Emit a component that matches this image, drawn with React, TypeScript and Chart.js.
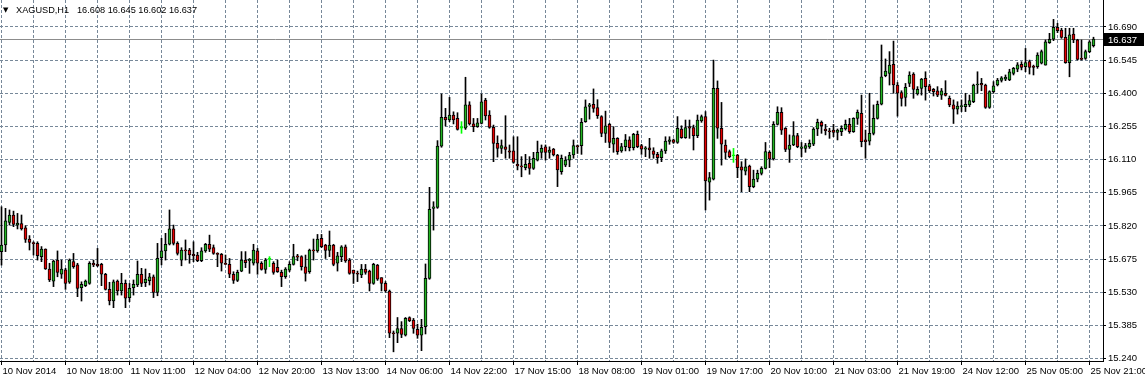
import { useEffect, useRef } from "react";
import { Chart, registerables } from "chart.js";

Chart.register(...registerables);

const symbol = "XAGUSD,H1";

const tickLabels = [
  "10 Nov 2014", "10 Nov 18:00", "11 Nov 11:00", "12 Nov 04:00", "12 Nov 20:00", "13 Nov 13:00",
  "14 Nov 06:00", "14 Nov 22:00", "17 Nov 15:00", "18 Nov 08:00", "19 Nov 01:00", "19 Nov 17:00",
  "20 Nov 10:00", "21 Nov 03:00", "21 Nov 19:00", "24 Nov 12:00", "25 Nov 05:00", "25 Nov 21:00",
];

const priceTicks = [15.24, 15.385, 15.53, 15.675, 15.82, 15.965, 16.11, 16.255, 16.4, 16.545, 16.69];
const priceMin = 15.2299;
const priceMax = 16.8076;

const opens = [
  15.708, 15.737, 15.836, 15.868, 15.824, 15.831, 15.812, 15.763, 15.747, 15.744,
  15.686, 15.719, 15.632, 15.579, 15.671, 15.609, 15.628, 15.574, 15.664, 15.650,
  15.550, 15.559, 15.569, 15.657, 15.652, 15.652, 15.609, 15.543, 15.492, 15.579,
  15.536, 15.569, 15.507, 15.550, 15.562, 15.609, 15.572, 15.581, 15.598, 15.530,
  15.681, 15.711, 15.740, 15.807, 15.744, 15.671, 15.715, 15.715, 15.696, 15.693,
  15.668, 15.711, 15.740, 15.726, 15.700, 15.696, 15.657, 15.652, 15.609, 15.582,
  15.623, 15.671, 15.668, 15.657, 15.711, 15.657, 15.630, 15.674, 15.657, 15.639,
  15.617, 15.598, 15.627, 15.652, 15.690, 15.686, 15.642, 15.620, 15.715, 15.711,
  15.766, 15.737, 15.713, 15.737, 15.657, 15.686, 15.729, 15.671, 15.627, 15.613,
  15.606, 15.632, 15.623, 15.569, 15.649, 15.594, 15.569, 15.536, 15.353, 15.351,
  15.372, 15.343, 15.420, 15.409, 15.368, 15.343, 15.380, 15.591, 15.897, 15.901,
  16.169, 16.295, 16.283, 16.305, 16.290, 16.247, 16.247, 16.349, 16.266, 16.254,
  16.268, 16.370, 16.305, 16.251, 16.181, 16.159, 16.166, 16.148, 16.148, 16.089,
  16.082, 16.075, 16.094, 16.072, 16.108, 16.142, 16.166, 16.142, 16.156, 16.130,
  16.057, 16.086, 16.108, 16.130, 16.171, 16.171, 16.276, 16.343, 16.352, 16.337,
  16.298, 16.225, 16.264, 16.177, 16.203, 16.148, 16.167, 16.196, 16.162, 16.220,
  16.171, 16.156, 16.162, 16.148, 16.133, 16.118, 16.148, 16.189, 16.196, 16.185,
  16.244, 16.206, 16.254, 16.250, 16.215, 16.279, 16.298, 16.011, 16.025, 16.422,
  16.247, 16.174, 16.145, 16.127, 16.130, 16.079, 16.060, 16.082, 15.992, 16.025,
  16.050, 16.072, 16.142, 16.113, 16.264, 16.317, 16.247, 16.155, 16.174, 16.215,
  16.159, 16.159, 16.166, 16.177, 16.244, 16.273, 16.244, 16.236, 16.239, 16.229,
  16.232, 16.244, 16.264, 16.232, 16.290, 16.312, 16.196, 16.191, 16.225, 16.290,
  16.352, 16.477, 16.487, 16.526, 16.436, 16.403, 16.382, 16.443, 16.484, 16.397,
  16.421, 16.465, 16.432, 16.417, 16.411, 16.392, 16.400, 16.378, 16.349, 16.330,
  16.341, 16.341, 16.349, 16.363, 16.436, 16.443, 16.436, 16.338, 16.407, 16.436,
  16.456, 16.462, 16.458, 16.487, 16.505, 16.526, 16.516, 16.538, 16.519, 16.516,
  16.531, 16.523, 16.621, 16.636, 16.688, 16.676, 16.644, 16.534, 16.659, 16.633,
  16.553, 16.552, 16.582, 16.608,
];

const highs = [
  15.904, 15.897, 15.890, 15.885, 15.875, 15.868, 15.821, 15.778, 15.751, 15.751,
  15.730, 15.720, 15.657, 15.671, 15.711, 15.671, 15.635, 15.676, 15.700, 15.657,
  15.576, 15.584, 15.664, 15.671, 15.722, 15.657, 15.613, 15.574, 15.584, 15.584,
  15.613, 15.584, 15.569, 15.584, 15.667, 15.635, 15.632, 15.613, 15.606, 15.744,
  15.766, 15.788, 15.890, 15.824, 15.751, 15.725, 15.759, 15.722, 15.751, 15.705,
  15.725, 15.744, 15.780, 15.737, 15.703, 15.700, 15.693, 15.678, 15.620, 15.627,
  15.708, 15.708, 15.678, 15.740, 15.722, 15.664, 15.678, 15.686, 15.664, 15.671,
  15.627, 15.638, 15.664, 15.740, 15.696, 15.690, 15.693, 15.719, 15.763, 15.783,
  15.783, 15.740, 15.798, 15.740, 15.705, 15.734, 15.737, 15.678, 15.627, 15.623,
  15.652, 15.652, 15.627, 15.657, 15.652, 15.594, 15.577, 15.540, 15.361, 15.420,
  15.402, 15.420, 15.423, 15.416, 15.391, 15.412, 15.654, 15.989, 15.926, 16.193,
  16.397, 16.334, 16.382, 16.319, 16.315, 16.276, 16.470, 16.363, 16.290, 16.290,
  16.397, 16.378, 16.324, 16.261, 16.214, 16.196, 16.302, 16.174, 16.210, 16.210,
  16.123, 16.133, 16.123, 16.142, 16.191, 16.174, 16.174, 16.166, 16.159, 16.133,
  16.130, 16.123, 16.142, 16.196, 16.174, 16.290, 16.371, 16.356, 16.419, 16.372,
  16.302, 16.322, 16.269, 16.254, 16.206, 16.181, 16.220, 16.210, 16.225, 16.235,
  16.177, 16.167, 16.203, 16.162, 16.142, 16.156, 16.210, 16.210, 16.200, 16.298,
  16.258, 16.283, 16.283, 16.261, 16.305, 16.305, 16.320, 16.054, 16.545, 16.454,
  16.360, 16.196, 16.152, 16.159, 16.133, 16.101, 16.113, 16.086, 16.064, 16.064,
  16.079, 16.185, 16.148, 16.276, 16.341, 16.337, 16.250, 16.218, 16.276, 16.225,
  16.185, 16.181, 16.196, 16.250, 16.287, 16.279, 16.264, 16.247, 16.264, 16.244,
  16.258, 16.283, 16.290, 16.293, 16.327, 16.392, 16.239, 16.400, 16.349, 16.366,
  16.611, 16.550, 16.582, 16.628, 16.447, 16.411, 16.443, 16.494, 16.490, 16.429,
  16.465, 16.494, 16.440, 16.421, 16.429, 16.421, 16.455, 16.388, 16.371, 16.363,
  16.371, 16.400, 16.392, 16.440, 16.494, 16.465, 16.440, 16.411, 16.451, 16.465,
  16.473, 16.480, 16.505, 16.513, 16.534, 16.538, 16.596, 16.545, 16.523, 16.577,
  16.589, 16.633, 16.662, 16.723, 16.706, 16.684, 16.684, 16.684, 16.684, 16.636,
  16.633, 16.589, 16.630, 16.645,
];

const lows = [
  15.649, 15.708, 15.824, 15.817, 15.807, 15.802, 15.748, 15.715, 15.693, 15.671,
  15.664, 15.630, 15.577, 15.555, 15.598, 15.591, 15.543, 15.569, 15.635, 15.511,
  15.492, 15.555, 15.565, 15.642, 15.642, 15.559, 15.540, 15.475, 15.463, 15.518,
  15.518, 15.463, 15.489, 15.518, 15.555, 15.555, 15.555, 15.562, 15.507, 15.515,
  15.650, 15.671, 15.737, 15.737, 15.693, 15.646, 15.671, 15.657, 15.664, 15.664,
  15.664, 15.705, 15.708, 15.696, 15.642, 15.623, 15.652, 15.594, 15.569, 15.577,
  15.620, 15.638, 15.613, 15.649, 15.609, 15.627, 15.613, 15.642, 15.609, 15.617,
  15.555, 15.591, 15.620, 15.649, 15.668, 15.627, 15.579, 15.613, 15.671, 15.705,
  15.725, 15.678, 15.686, 15.646, 15.623, 15.664, 15.661, 15.609, 15.569, 15.577,
  15.594, 15.609, 15.536, 15.565, 15.582, 15.536, 15.530, 15.332, 15.270, 15.310,
  15.332, 15.339, 15.402, 15.351, 15.329, 15.275, 15.348, 15.587, 15.802, 15.897,
  16.164, 16.257, 16.276, 16.266, 16.239, 16.225, 16.242, 16.261, 16.232, 16.251,
  16.266, 16.283, 16.247, 16.101, 16.121, 16.137, 16.116, 16.116, 16.094, 16.065,
  16.035, 16.065, 16.046, 16.067, 16.104, 16.116, 16.108, 16.116, 16.126, 15.992,
  16.046, 16.079, 16.079, 16.116, 16.137, 16.133, 16.273, 16.287, 16.317, 16.290,
  16.210, 16.185, 16.162, 16.142, 16.133, 16.142, 16.148, 16.148, 16.152, 16.162,
  16.133, 16.123, 16.116, 16.116, 16.094, 16.101, 16.137, 16.177, 16.181, 16.181,
  16.203, 16.203, 16.203, 16.152, 16.206, 16.273, 15.890, 15.933, 16.021, 16.203,
  16.086, 16.113, 16.118, 16.098, 16.031, 15.970, 16.043, 15.970, 15.987, 16.013,
  16.043, 16.069, 16.075, 16.108, 16.261, 16.220, 16.145, 16.098, 16.171, 16.162,
  16.123, 16.142, 16.159, 16.171, 16.215, 16.225, 16.218, 16.203, 16.210, 16.196,
  16.215, 16.239, 16.225, 16.229, 16.264, 16.166, 16.116, 16.174, 16.218, 16.287,
  16.349, 16.472, 16.436, 16.400, 16.300, 16.344, 16.344, 16.429, 16.378, 16.392,
  16.392, 16.370, 16.403, 16.388, 16.385, 16.373, 16.388, 16.341, 16.268, 16.309,
  16.320, 16.320, 16.341, 16.359, 16.400, 16.411, 16.334, 16.334, 16.400, 16.432,
  16.449, 16.455, 16.455, 16.480, 16.494, 16.502, 16.494, 16.484, 16.480, 16.509,
  16.528, 16.523, 16.618, 16.630, 16.665, 16.640, 16.531, 16.472, 16.621, 16.545,
  16.545, 16.548, 16.577, 16.602,
];

const closes = [
  15.737, 15.842, 15.868, 15.827, 15.833, 15.807, 15.761, 15.748, 15.743, 15.690,
  15.719, 15.632, 15.584, 15.667, 15.617, 15.632, 15.569, 15.671, 15.642, 15.547,
  15.565, 15.579, 15.657, 15.650, 15.647, 15.609, 15.543, 15.492, 15.576, 15.536,
  15.569, 15.504, 15.547, 15.565, 15.609, 15.569, 15.588, 15.598, 15.530, 15.679,
  15.711, 15.740, 15.807, 15.744, 15.700, 15.715, 15.711, 15.693, 15.690, 15.668,
  15.711, 15.740, 15.719, 15.700, 15.696, 15.657, 15.652, 15.609, 15.582, 15.617,
  15.671, 15.660, 15.674, 15.715, 15.657, 15.630, 15.671, 15.674, 15.617, 15.620,
  15.598, 15.632, 15.652, 15.686, 15.684, 15.642, 15.613, 15.715, 15.711, 15.763,
  15.730, 15.713, 15.737, 15.652, 15.690, 15.729, 15.667, 15.613, 15.613, 15.609,
  15.632, 15.617, 15.569, 15.652, 15.587, 15.569, 15.536, 15.351, 15.349, 15.372,
  15.346, 15.416, 15.406, 15.372, 15.343, 15.377, 15.591, 15.893, 15.904, 16.169,
  16.295, 16.283, 16.305, 16.283, 16.242, 16.247, 16.349, 16.266, 16.254, 16.271,
  16.363, 16.301, 16.251, 16.181, 16.159, 16.171, 16.155, 16.143, 16.098, 16.083,
  16.078, 16.089, 16.072, 16.116, 16.142, 16.159, 16.142, 16.152, 16.130, 16.065,
  16.116, 16.108, 16.130, 16.171, 16.166, 16.273, 16.341, 16.349, 16.334, 16.302,
  16.225, 16.258, 16.185, 16.203, 16.145, 16.167, 16.196, 16.162, 16.220, 16.167,
  16.156, 16.162, 16.152, 16.133, 16.118, 16.148, 16.191, 16.196, 16.185, 16.247,
  16.206, 16.250, 16.247, 16.215, 16.283, 16.298, 16.017, 16.031, 16.422, 16.247,
  16.177, 16.142, 16.123, 16.127, 16.075, 16.064, 16.079, 15.992, 16.025, 16.050,
  16.072, 16.145, 16.113, 16.264, 16.317, 16.239, 16.155, 16.174, 16.215, 16.167,
  16.166, 16.171, 16.181, 16.244, 16.273, 16.258, 16.236, 16.232, 16.229, 16.239,
  16.247, 16.264, 16.232, 16.290, 16.317, 16.188, 16.188, 16.225, 16.290, 16.352,
  16.472, 16.497, 16.523, 16.436, 16.400, 16.378, 16.426, 16.480, 16.417, 16.417,
  16.462, 16.429, 16.411, 16.407, 16.392, 16.411, 16.391, 16.349, 16.330, 16.344,
  16.346, 16.352, 16.368, 16.436, 16.440, 16.436, 16.338, 16.407, 16.432, 16.458,
  16.468, 16.470, 16.494, 16.509, 16.524, 16.513, 16.534, 16.513, 16.513, 16.567,
  16.582, 16.625, 16.636, 16.688, 16.674, 16.644, 16.534, 16.655, 16.633, 16.548,
  16.548, 16.582, 16.625, 16.637,
];

const BULL = "#22b422";
const BEAR = "#e50000";
const DOJI = "#00ff00";
const GRID = "#778899";
const FONT = "'Liberation Sans', Arial, sans-serif";

export default function App() {
  const ref = useRef<HTMLCanvasElement | null>(null);

  useEffect(() => {
    document.body.style.margin = "0";
    const canvas = ref.current;
    if (!canvas) return;
    const n = closes.length;
    const idx = closes.map((_, i) => i);
    const colorOf = (i: number) =>
      closes[i] > opens[i] ? BULL : closes[i] < opens[i] ? BEAR : DOJI;
    const outlineOf = (i: number) => (colorOf(i) === DOJI ? DOJI : "#000000");
    const gridIdx = Array.from({ length: tickLabels.length * 2 - 1 }, (_, k) => k * 8);
    const last = closes[n - 1];
    const header = `${opens[n - 1].toFixed(3)} ${highs[n - 1].toFixed(3)} ${lows[n - 1].toFixed(3)} ${last.toFixed(3)}`;

    const overlay = {
      id: "overlay",
      beforeDatasetsDraw(chart: any) {
        const { ctx, chartArea, scales } = chart;
        const py = Math.round(scales.y.getPixelForValue(last)) + 0.5;
        ctx.save();
        ctx.strokeStyle = "#8c8c8c";
        ctx.lineWidth = 1;
        ctx.beginPath();
        ctx.moveTo(chartArea.left, py);
        ctx.lineTo(chartArea.right, py);
        ctx.stroke();
        ctx.restore();
      },
      afterDraw(chart: any) {
        const { ctx, chartArea, scales } = chart;
        const py = Math.round(scales.y.getPixelForValue(last));
        ctx.save();
        ctx.fillStyle = "#000";
        ctx.fillRect(chartArea.right + 1, py - 6, 40, 13);
        ctx.fillStyle = "#fff";
        ctx.font = `9.5px ${FONT}`;
        ctx.textBaseline = "middle";
        ctx.textAlign = "left";
        ctx.fillText(last.toFixed(3), chartArea.right + 5, py + 1);
        ctx.fillStyle = "#000";
        ctx.font = `7px 'DejaVu Sans', sans-serif`;
        ctx.fillText("▼", 3, 10);
        ctx.font = `9.2px ${FONT}`;
        ctx.fillText(symbol, 16, 10);
        ctx.fillText(header, 77, 10);
        ctx.restore();
      },
    };

    const chart = new Chart(canvas, {
      type: "bar",
      data: {
        datasets: [
          {
            label: "body",
            data: idx.map((i) => ({ x: i, y: [opens[i], closes[i]] })) as any,
            backgroundColor: idx.map(colorOf),
            borderColor: idx.map(outlineOf),
            borderWidth: 1,
            borderSkipped: false,
            barThickness: 3,
            minBarLength: 1,
            grouped: false,
            order: 0,
          },
          {
            label: "wick",
            data: idx.map((i) => ({ x: i, y: [lows[i], highs[i]] })) as any,
            backgroundColor: idx.map(outlineOf),
            borderWidth: 0,
            barThickness: 1,
            grouped: false,
            order: 1,
          },
        ],
      },
      options: {
        responsive: false,
        animation: false,
        devicePixelRatio: 1,
        events: [],
        layout: { padding: 0, autoPadding: false },
        plugins: { legend: { display: false }, tooltip: { enabled: false }, title: { display: false } },
        scales: {
          x: {
            type: "linear",
            min: -0.375,
            max: 275.375,
            offset: false,
            afterBuildTicks: (s: any) => {
              s.ticks = gridIdx.map((v) => ({ value: v }));
            },
            afterFit: (s: any) => {
              s.height = 19;
              s.paddingLeft = 0;
              s.paddingRight = 0;
              s.paddingTop = 0;
              s.paddingBottom = 0;
            },
            grid: {
              color: GRID,
              lineWidth: 1,
              offset: false,
              drawTicks: true,
              tickLength: 4,
              tickColor: (c: any) => (c.tick && c.tick.value % 16 === 0 ? "#000" : "rgba(0,0,0,0)"),
            },
            border: { display: true, color: "#000", dash: [3, 2] },
            ticks: {
              autoSkip: false,
              maxRotation: 0,
              minRotation: 0,
              align: "start",
              padding: 1,
              labelOffset: 1,
              color: "#000",
              font: { family: FONT, size: 9.5 },
              callback: (v: any) => (Number(v) % 16 === 0 ? tickLabels[Number(v) / 16] : ""),
            },
          },
          y: {
            type: "linear",
            position: "right",
            min: priceMin,
            max: priceMax,
            afterBuildTicks: (s: any) => {
              s.ticks = priceTicks.map((v) => ({ value: v }));
            },
            afterFit: (s: any) => {
              s.width = 42;
              s.paddingLeft = 0;
              s.paddingRight = 0;
              s.paddingTop = 0;
              s.paddingBottom = 0;
            },
            grid: { color: GRID, lineWidth: 1, drawTicks: true, tickLength: 3, tickColor: "#000" },
            border: { display: true, color: "#000", dash: [3, 2] },
            ticks: {
              color: "#000",
              padding: 2,
              font: { family: FONT, size: 9.5 },
              callback: (v: any) => Number(v).toFixed(3),
            },
          },
        },
      } as any,
      plugins: [overlay],
    });

    return () => chart.destroy();
  }, []);

  return <canvas ref={ref} width={1145} height={380} style={{ display: "block" }} />;
}
